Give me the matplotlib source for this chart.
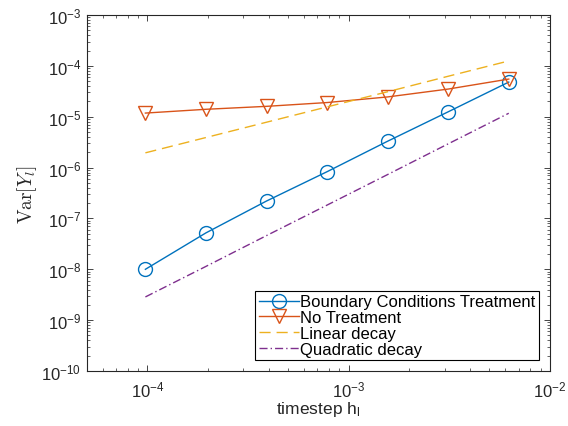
import numpy as np
import matplotlib.pyplot as plt
from matplotlib.ticker import LogLocator, NullFormatter, FixedLocator

plt.rcParams['font.family'] = ['Liberation Sans', 'DejaVu Sans']
plt.rcParams['mathtext.fontset'] = 'custom'
plt.rcParams['mathtext.rm'] = 'Liberation Sans'
plt.rcParams['mathtext.it'] = 'Liberation Sans:italic'

# timestep h_l
h = [9.766e-5, 1.953e-4, 3.906e-4, 7.8125e-4, 1.5625e-3, 3.125e-3, 6.25e-3]
# Var[Y_l]
var_bc = [1.0e-8, 5.2e-8, 2.2e-7, 8.3e-7, 3.3e-6, 1.25e-5, 4.8e-5]
var_none = [1.18e-5, 1.4e-5, 1.6e-5, 1.9e-5, 2.45e-5, 3.5e-5, 5.5e-5]
# reference slopes
lin_ref = [1.95e-6, 3.9e-6, 7.8e-6, 1.56e-5, 3.1e-5, 6.25e-5, 1.25e-4]
quad_ref = [2.86e-9, 1.14e-8, 4.6e-8, 1.83e-7, 7.3e-7, 2.93e-6, 1.17e-5]

c_blue = '#0072BD'
c_red = '#D95319'
c_yel = '#EDB120'
c_pur = '#7E2F8E'

fig = plt.figure(figsize=(5.68, 4.27), dpi=100)
ax = fig.add_axes([0.153, 0.1288, 0.815, 0.8337])

ax.loglog(h, var_bc, '-o', color=c_blue, lw=1.0, ms=10, mfc='none', mew=1.0,
          label='Boundary Conditions Treatment')
ax.loglog(h, var_none, '-v', color=c_red, lw=1.0, ms=10, mfc='none', mew=1.0,
          label='No Treatment')
ax.loglog(h, lin_ref, '--', color=c_yel, lw=1.0, dashes=(8, 4.3), label='Linear decay')
ax.loglog(h, quad_ref, '-.', color=c_pur, lw=1.0, dashes=(5.8, 2.2, 1, 2.2),
          label='Quadratic decay')

ax.set_xlim(5e-5, 1e-2)
ax.set_ylim(1e-10, 1e-3)

ax.xaxis.set_major_locator(FixedLocator([1e-4, 1e-3, 1e-2]))
ax.yaxis.set_major_locator(FixedLocator([10.0**k for k in range(-10, -2)]))
ax.xaxis.set_minor_locator(LogLocator(base=10, subs=np.arange(2, 10), numticks=20))
ax.yaxis.set_minor_locator(LogLocator(base=10, subs=np.arange(2, 10), numticks=20))
ax.xaxis.set_minor_formatter(NullFormatter())
ax.yaxis.set_minor_formatter(NullFormatter())
ax.set_xticklabels([r'$\mathregular{10^{-4}}$', r'$\mathregular{10^{-3}}$', r'$\mathregular{10^{-2}}$'])
ax.set_yticklabels([r'$\mathregular{10^{%d}}$' % k for k in range(-10, -2)])

ax.tick_params(which='both', direction='in', top=True, right=True,
               color='#262626', labelsize=12, labelcolor='#262626')
ax.tick_params(which='major', length=4, width=0.6)
ax.tick_params(axis='x', which='major', pad=6)
ax.tick_params(axis='y', which='major', pad=4)
ax.tick_params(which='minor', length=2, width=0.5)
for s in ax.spines.values():
    s.set_color('#262626')
    s.set_linewidth(0.8)

ax.set_xlabel(r'timestep h$_\mathregular{l}$', fontsize=12.5, color='#262626', labelpad=0)
ax.set_ylabel(r'$\mathrm{Var}[Y_l]$', fontsize=14, color='#262626', labelpad=2,
              math_fontfamily='cm')

leg = ax.legend(loc='lower right', bbox_to_anchor=(1, 0), fontsize=12,
                handlelength=2.4, handletextpad=0.1, labelspacing=0.05,
                borderpad=0.2, borderaxespad=0.65, fancybox=False, framealpha=1)
leg.get_frame().set_edgecolor('black')
leg.get_frame().set_linewidth(0.8)

fig.savefig('out.png', dpi=100)
